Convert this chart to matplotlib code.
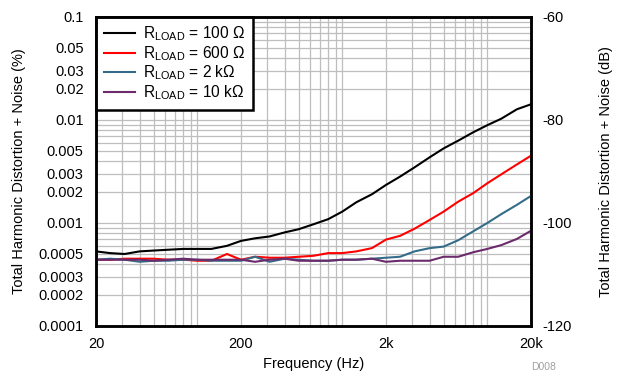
import numpy as np
from matplotlib import pyplot as plt
from matplotlib.ticker import FixedLocator, NullFormatter, LogLocator

plt.rcParams['font.family'] = ['Liberation Sans', 'DejaVu Sans']
plt.rcParams['mathtext.fontset'] = 'custom'
plt.rcParams['mathtext.rm'] = 'Liberation Sans'
plt.rcParams['mathtext.it'] = 'Liberation Sans'
plt.rcParams['axes.unicode_minus'] = False

# Frequency points (Hz), 1/3 octave
freq = [20, 25, 31.5, 40, 50, 63, 80, 100, 125, 160, 200, 250, 315, 400, 500,
        630, 800, 1000, 1250, 1600, 2000, 2500, 3150, 4000, 5000, 6300, 8000,
        10000, 12500, 16000, 20000]

# THD+N (%) per load
thd_100 = [0.00053, 0.00051, 0.0005, 0.00053, 0.00054, 0.00055, 0.00056, 0.00056,
           0.00056, 0.0006, 0.00067, 0.00071, 0.00074, 0.00081, 0.00087, 0.00097,
           0.00109, 0.00129, 0.00159, 0.0019, 0.00234, 0.00282, 0.00347, 0.00434,
           0.0053, 0.0063, 0.0076, 0.0089, 0.0103, 0.0127, 0.0142]
thd_600 = [0.00044, 0.00044, 0.00045, 0.00045, 0.00045, 0.00044, 0.00044, 0.00043,
           0.00043, 0.0005, 0.00044, 0.00047, 0.00046, 0.00046, 0.00047, 0.00048,
           0.00051, 0.00051, 0.00053, 0.00057, 0.00069, 0.00075, 0.00088, 0.00107,
           0.00129, 0.00161, 0.00195, 0.00243, 0.00297, 0.0037, 0.0045]
thd_2k = [0.00044, 0.00045, 0.00044, 0.00042, 0.00043, 0.00043, 0.00044, 0.00044,
          0.00043, 0.00043, 0.00043, 0.00047, 0.00042, 0.00045, 0.00044, 0.00043,
          0.00043, 0.00044, 0.00044, 0.00045, 0.00046, 0.00047, 0.00053, 0.00057,
          0.00059, 0.00068, 0.00083, 0.001, 0.00122, 0.0015, 0.00183]
thd_10k = [0.00044, 0.00044, 0.00044, 0.00044, 0.00043, 0.00044, 0.00045, 0.00044,
           0.00044, 0.00044, 0.00044, 0.00042, 0.00044, 0.00045, 0.00043, 0.00043,
           0.00043, 0.00044, 0.00044, 0.00045, 0.00042, 0.00043, 0.00043, 0.00043,
           0.00047, 0.00047, 0.00052, 0.00056, 0.00061, 0.0007, 0.00084]

labels = [r'R$_{\mathrm{LOAD}}$ = 100 Ω', r'R$_{\mathrm{LOAD}}$ = 600 Ω',
          r'R$_{\mathrm{LOAD}}$ = 2 kΩ', r'R$_{\mathrm{LOAD}}$ = 10 kΩ']
colors = ['#000000', '#FF0000', '#346C8A', '#6B2B6B']

xticks = [20, 200, 2000, 20000]
xticklabels = ['20', '200', '2k', '20k']
yticks = [0.0001, 0.0002, 0.0003, 0.0005, 0.001, 0.002, 0.003, 0.005,
          0.01, 0.02, 0.03, 0.05, 0.1]
yticklabels = ['0.0001', '0.0002', '0.0003', '0.0005', '0.001', '0.002', '0.003',
               '0.005', '0.01', '0.02', '0.03', '0.05', '0.1']
dbticks = [-120, -100, -80, -60]

FS = 10.5

fig = plt.figure(figsize=(6.21, 3.77), dpi=100)
ax = fig.add_axes([0.1546, 0.1353, 0.7004, 0.8197])

for series, lab, col in zip([thd_100, thd_600, thd_2k, thd_10k], labels, colors):
    ax.plot(freq, series, color=col, lw=1.5, label=lab, zorder=3)

ax.set_xscale('log')
ax.set_yscale('log')
ax.set_xlim(20, 20000)
ax.set_ylim(0.0001, 0.1)

# grid on every 1..9 of each decade
ax.xaxis.set_major_locator(FixedLocator(xticks))
ax.xaxis.set_minor_locator(LogLocator(base=10, subs=np.arange(1, 10)))
ax.xaxis.set_minor_formatter(NullFormatter())
ax.set_xticklabels(xticklabels)
ax.yaxis.set_major_locator(FixedLocator(yticks))
ax.yaxis.set_minor_locator(LogLocator(base=10, subs=np.arange(1, 10)))
ax.yaxis.set_minor_formatter(NullFormatter())
ax.set_yticklabels(yticklabels)
ax.grid(True, which='both', color='#BEBEBE', lw=0.9, zorder=0)
ax.tick_params(which='both', length=0, labelsize=FS)
ax.tick_params(axis='x', pad=8)
ax.tick_params(axis='y', pad=9)

for sp in ax.spines.values():
    sp.set_linewidth(1.8)

ax.set_xlabel('Frequency (Hz)', fontsize=FS, labelpad=4)
ax.set_ylabel('Total Harmonic Distortion + Noise (%)', fontsize=FS, labelpad=9)

ax2 = ax.twinx()
ax2.set_ylim(-120, -60)
ax2.set_yticks(dbticks)
ax2.tick_params(length=0, labelsize=FS, pad=8)
ax2.set_ylabel('Total Harmonic Distortion + Noise (dB)', fontsize=FS, labelpad=20)
for sp in ax2.spines.values():
    sp.set_linewidth(1.8)

leg = ax.legend(loc='upper left', borderaxespad=0, fontsize=11.2, fancybox=False,
                framealpha=1, edgecolor='black', handlelength=2.0,
                labelspacing=0.05, borderpad=0.5, handletextpad=0.55)
leg.get_frame().set_linewidth(1.8)
leg.set_zorder(5)

fig.text(0.855, 0.018, 'D008', fontsize=7.5, color='#A0A0A0')

fig.savefig('out.png', dpi=100)
